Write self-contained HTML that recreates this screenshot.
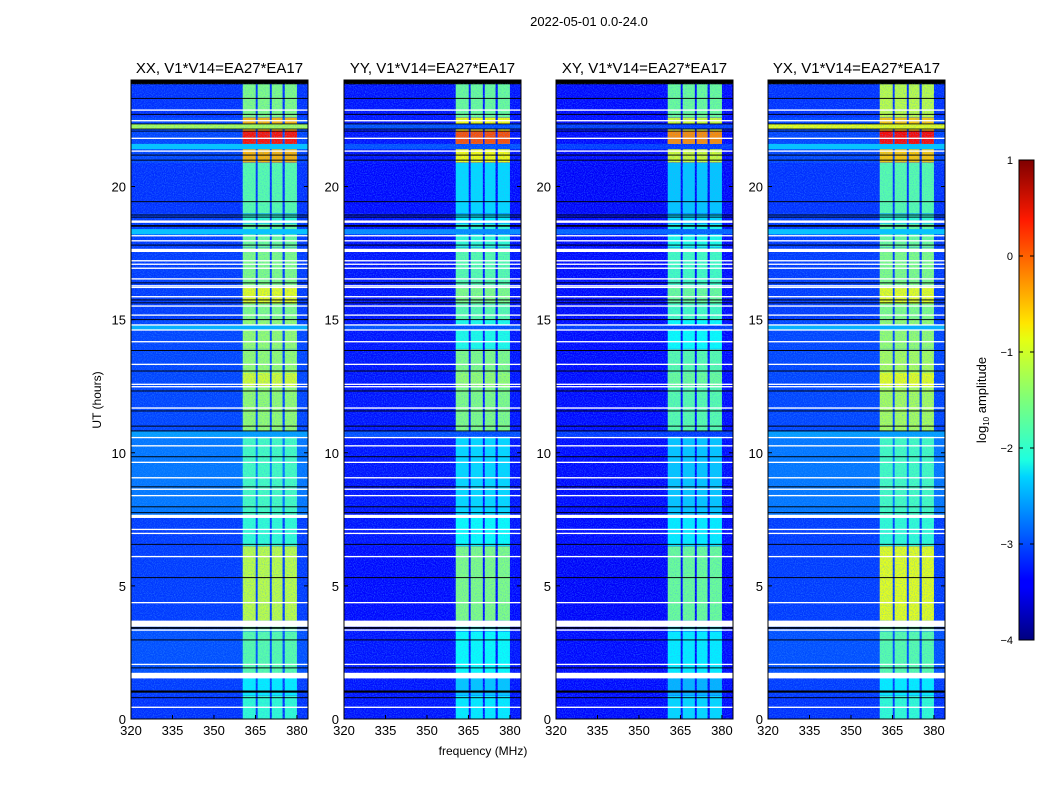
<!DOCTYPE html>
<html><head><meta charset="utf-8">
<style>
body{margin:0;background:#fff;font-family:"Liberation Sans",sans-serif;}
#wrap{position:relative;width:1050px;height:800px;overflow:hidden;background:#fff;}
svg text{font-family:"Liberation Sans",sans-serif;fill:#000;}
</style></head>
<body>
<div id="wrap">
<svg id="fig" width="1050" height="800" viewBox="0 0 1050 800" xmlns="http://www.w3.org/2000/svg">
<defs>
<linearGradient id="jetgrad" x1="0" y1="1" x2="0" y2="0">
<stop offset="0" stop-color="#00007f"/><stop offset="0.11" stop-color="#0000ff"/>
<stop offset="0.125" stop-color="#0000ff"/><stop offset="0.34" stop-color="#00d4ff"/>
<stop offset="0.375" stop-color="#1effe0"/><stop offset="0.5" stop-color="#7dff7a"/>
<stop offset="0.625" stop-color="#e4ff13"/><stop offset="0.66" stop-color="#ffe600"/>
<stop offset="0.875" stop-color="#ff1a00"/><stop offset="1" stop-color="#7f0000"/>
</linearGradient>
<filter id="noise" x="0" y="0" width="100%" height="100%">
<feTurbulence type="fractalNoise" baseFrequency="0.9" numOctaves="1" seed="3"/>
<feColorMatrix type="matrix" values="0 0 0 0 0.05  0 0 0 0 0.35  0 0 0 0 1  0 0 0 -1.2 0.7"/>
</filter>
</defs>
<text x="589" y="26" font-size="13" text-anchor="middle">2022-05-01 0.0-24.0</text>
<text x="483" y="755" font-size="12" text-anchor="middle">frequency (MHz)</text>
<text transform="translate(101,400) rotate(-90)" font-size="12" text-anchor="middle">UT (hours)</text>
<g id="panels"></g>
<g id="cbar"></g>
</svg>
</div>
<script>
// ---- data ----
var panelNames = ["XX","YY","XY","YX"];
var panelTitles = ["XX, V1*V14=EA27*EA17","YY, V1*V14=EA27*EA17","XY, V1*V14=EA27*EA17","YX, V1*V14=EA27*EA17"];
var freqMin = 320, freqMax = 384, timeMin = 0, timeMax = 24;
var xTicks = [320,335,350,365,380];
var yTicks = [0,5,10,15,20];
var cbTicks = [1,0,-1,-2,-3,-4];
var bandStart = [360.4,365.8,370.9,375.6];
var bandEnd = [365.1,370.2,374.8,380.0];
var segStart = [0,0.9,1.6,3.3,3.7,6.5,7.6,10.8,13.9,15.0,17.7,18.6,19.0,20.9,22.6,23.85];
var segEnd = [0.9,1.6,3.3,3.7,6.5,7.6,10.8,13.9,15.0,17.7,18.6,19.0,20.9,22.6,23.85,24];
var bgXX = [-3.15,-3.1,-3.0,-3.0,-3.1,-3.1,-2.8,-3.05,-3.05,-3.1,-3.1,-3.1,-3.15,-3.05,-3.15,-9];
var bandXX = [-1.9,-2.2,-1.7,-1.7,-1.2,-1.9,-1.8,-1.4,-1.4,-1.5,-1.6,-1.9,-1.7,-0.5,-1.5,-9];
var bgYY = [-3.3,-3.3,-3.3,-3.3,-3.35,-3.3,-3.3,-3.3,-3.3,-3.3,-3.3,-3.3,-3.35,-3.3,-3.3,-9];
var bandYY = [-2.2,-2.4,-2.1,-2.1,-1.5,-2.1,-2.3,-1.5,-2.0,-1.7,-1.9,-2.2,-2.3,-0.9,-1.6,-9];
var bgXY = [-3.35,-3.35,-3.35,-3.35,-3.4,-3.35,-3.35,-3.35,-3.35,-3.35,-3.35,-3.35,-3.4,-3.35,-3.35,-9];
var bandXY = [-2.3,-2.5,-2.2,-2.2,-1.6,-2.2,-2.4,-1.7,-2.1,-1.8,-2.0,-2.3,-2.4,-1.1,-1.6,-9];
var bgYX = [-3.15,-3.1,-3.0,-3.0,-3.1,-3.1,-2.8,-3.05,-3.05,-3.1,-3.1,-3.1,-3.15,-3.05,-3.15,-9];
var bandYX = [-1.9,-2.2,-1.7,-1.7,-1.0,-1.9,-1.8,-1.3,-1.4,-1.5,-1.6,-1.9,-1.7,-0.6,-1.2,-9];
var hotStart = [21.6,15.6,12.5];
var hotEnd = [22.1,16.2,13.0];
var hotXX = [0.3,-1.0,-1.1];
var hotYY = [0.0,-1.5,-1.4];
var hotXY = [-0.3,-1.6,-1.6];
var hotYX = [0.35,-1.0,-1.0];
var rowStart = [22.15,21.4,18.2,14.6,10.6];
var rowEnd = [22.35,21.6,18.4,14.8,10.8];
var rowXX = [-1.3,-2.4,-2.4,-2.5,-2.6];
var rowYY = [-3.0,-3.0,-2.7,-3.0,-3.0];
var rowXY = [-3.1,-3.1,-2.9,-3.1,-3.1];
var rowYX = [-1.0,-2.4,-2.4,-2.5,-2.6];
var flagHours = [22.87,22.47,21.81,21.33,18.68,18.15,17.96,17.6,17.21,17.08,16.93,16.53,16.27,16.21,15.86,15.51,15.17,14.80,14.61,14.17,13.32,12.57,12.48,11.68,10.57,10.26,9.64,9.06,8.63,8.39,7.61,7.12,6.97,6.10,4.37,3.58,3.34,2.05,1.63,0.44];
var flagWidths = [0.05,0.05,0.05,0.05,0.09,0.05,0.05,0.12,0.05,0.05,0.05,0.05,0.05,0.05,0.05,0.05,0.05,0.05,0.05,0.05,0.05,0.05,0.05,0.05,0.05,0.05,0.05,0.05,0.05,0.05,0.12,0.05,0.05,0.05,0.05,0.23,0.05,0.05,0.21,0.05];
var blackHours = [23.31,22.71,22.35,22.16,22.08,21.18,20.99,19.43,18.93,18.85,18.52,17.80,16.38,15.74,15.63,15.0,13.84,13.07,12.32,11.57,11.0,10.82,9.85,8.72,7.97,7.75,6.56,5.31,3.42,2.97,1.92,1.03,0.80];
var blackWidths = [0.035,0.035,0.03,0.03,0.03,0.035,0.035,0.035,0.035,0.035,0.06,0.035,0.035,0.035,0.035,0.035,0.035,0.035,0.035,0.035,0.035,0.035,0.035,0.035,0.035,0.035,0.035,0.035,0.06,0.035,0.035,0.08,0.035];

// ---- rendering ----
var NS = "http://www.w3.org/2000/svg";
var panelX0 = [131,344,556,768], panelW = 177, plotTop = 80, plotBot = 719;
function jet(v){
  if (v < -8) return "#000";
  var x = (v+4)/5; if (x<0) x=0; if (x>1) x=1;
  function c(a){return Math.max(0,Math.min(1,a));}
  var r=c(Math.min(4*x-1.5,-4*x+4.5)), g=c(Math.min(4*x-0.5,-4*x+3.5)), b=c(Math.min(4*x+0.5,-4*x+2.5));
  return "rgb("+Math.round(r*255)+","+Math.round(g*255)+","+Math.round(b*255)+")";
}
function mk(tag, attrs, parent){ var e=document.createElementNS(NS,tag); for (var k in attrs) e.setAttribute(k, attrs[k]); parent.appendChild(e); return e; }
var panelsG = document.getElementById("panels");
var bgs=[bgXX,bgYY,bgXY,bgYX], bands=[bandXX,bandYY,bandXY,bandYX], hots=[hotXX,hotYY,hotXY,hotYX], rows=[rowXX,rowYY,rowXY,rowYX];
for (var p=0;p<4;p++){
  var x0=panelX0[p];
  var sx=function(f){return x0+(f-freqMin)/(freqMax-freqMin)*panelW;};
  var sy=function(h){return plotBot-(h-timeMin)/(timeMax-timeMin)*(plotBot-plotTop);};
  var g=mk("g",{},panelsG);
  
  
  var bandsAt=function(h0,h1,level,name){
    for (var b=0;b<bandStart.length;b++){
      var r=mk("rect",{x:sx(bandStart[b]),y:sy(h1),width:sx(bandEnd[b])-sx(bandStart[b]),height:sy(h0)-sy(h1),fill:jet(level)},g);
      
      
    }
  };
  for (var s=0;s<segStart.length;s++){
    var r=mk("rect",{x:sx(freqMin),y:sy(segEnd[s]),width:panelW,height:sy(segStart[s])-sy(segEnd[s])+0.3,fill:jet(bgs[p][s])},g);
    
    
    if (bands[p][s]>-8) bandsAt(segStart[s],segEnd[s],bands[p][s],'rfi-band-cell');
  }
  for (var i=0;i<rowStart.length;i++){
    var r=mk("rect",{x:sx(freqMin),y:sy(rowEnd[i]),width:panelW,height:sy(rowStart[i])-sy(rowEnd[i]),fill:jet(rows[p][i])},g);
    
    
  }
  for (var i=0;i<hotStart.length;i++) bandsAt(hotStart[i],hotEnd[i],hots[p][i],'hot-band-cell');
  var nz=mk("rect",{x:x0,y:sy(23.85),width:panelW,height:plotBot-sy(23.85),filter:"url(#noise)"},g);
  
  
  for (var i=0;i<blackHours.length;i++){
    var r=mk("rect",{x:x0,y:sy(blackHours[i]+blackWidths[i]/2),width:panelW,height:Math.max(0.8,blackWidths[i]*26.625),fill:"#000"},g);
    
    
  }
  for (var i=0;i<flagHours.length;i++){
    var r=mk("rect",{x:x0,y:sy(flagHours[i]+flagWidths[i]/2),width:panelW,height:Math.max(1.2,flagWidths[i]*26.625),fill:"#fff"},g);
    
    
  }
  var fr=mk("rect",{x:x0,y:plotTop,width:panelW,height:plotBot-plotTop,fill:"none",stroke:"#000","stroke-width":1},g);
  
  
  var t=mk("text",{x:x0+panelW/2,y:73,"font-size":15,"text-anchor":"middle"},g);
  t.textContent=panelTitles[p];
  
  
  for (var i=0;i<xTicks.length;i++){
    var xx=sx(xTicks[i]);
    mk("line",{x1:xx,x2:xx,y1:plotBot,y2:plotBot-4,stroke:"#000"},g);
    mk("line",{x1:xx,x2:xx,y1:plotTop,y2:plotTop+4,stroke:"#000"},g);
    var tl=mk("text",{x:xx,y:plotBot+16,"font-size":13,"text-anchor":"middle"},g);
    tl.textContent=xTicks[i];
    
    
  }
  for (var i=0;i<yTicks.length;i++){
    var yy=sy(yTicks[i]);
    mk("line",{x1:x0,x2:x0+4,y1:yy,y2:yy,stroke:"#000"},g);
    mk("line",{x1:x0+panelW,x2:x0+panelW-4,y1:yy,y2:yy,stroke:"#000"},g);
    var tl=mk("text",{x:x0-5,y:yy+5,"font-size":13,"text-anchor":"end"},g);
    tl.textContent=yTicks[i];
    
    
  }
}
// colorbar
var cb=document.getElementById("cbar"), cbTop=160, cbBot=640;
var cr=mk("rect",{x:1019,y:cbTop,width:15,height:cbBot-cbTop,fill:"url(#jetgrad)",stroke:"#000","stroke-width":1},cb);


for (var i=0;i<cbTicks.length;i++){
  var yy=cbBot-(cbTicks[i]+4)/5*(cbBot-cbTop);
  mk("line",{x1:1019,x2:1023,y1:yy,y2:yy,stroke:"#000"},cb);
  mk("line",{x1:1030,x2:1034,y1:yy,y2:yy,stroke:"#000"},cb);
  var tl=mk("text",{x:1013,y:yy+4,"font-size":11,"text-anchor":"end"},cb);
  tl.textContent=cbTicks[i]<0?"\u2212"+(-cbTicks[i]):String(cbTicks[i]);
  
  
}
var lab=mk("text",{transform:"translate(986,400) rotate(-90)","font-size":13,"text-anchor":"middle"},cb);
lab.innerHTML='log<tspan font-size="8" dy="3">10</tspan><tspan dy="-3"> amplitude</tspan>';


</script>
</body></html>
